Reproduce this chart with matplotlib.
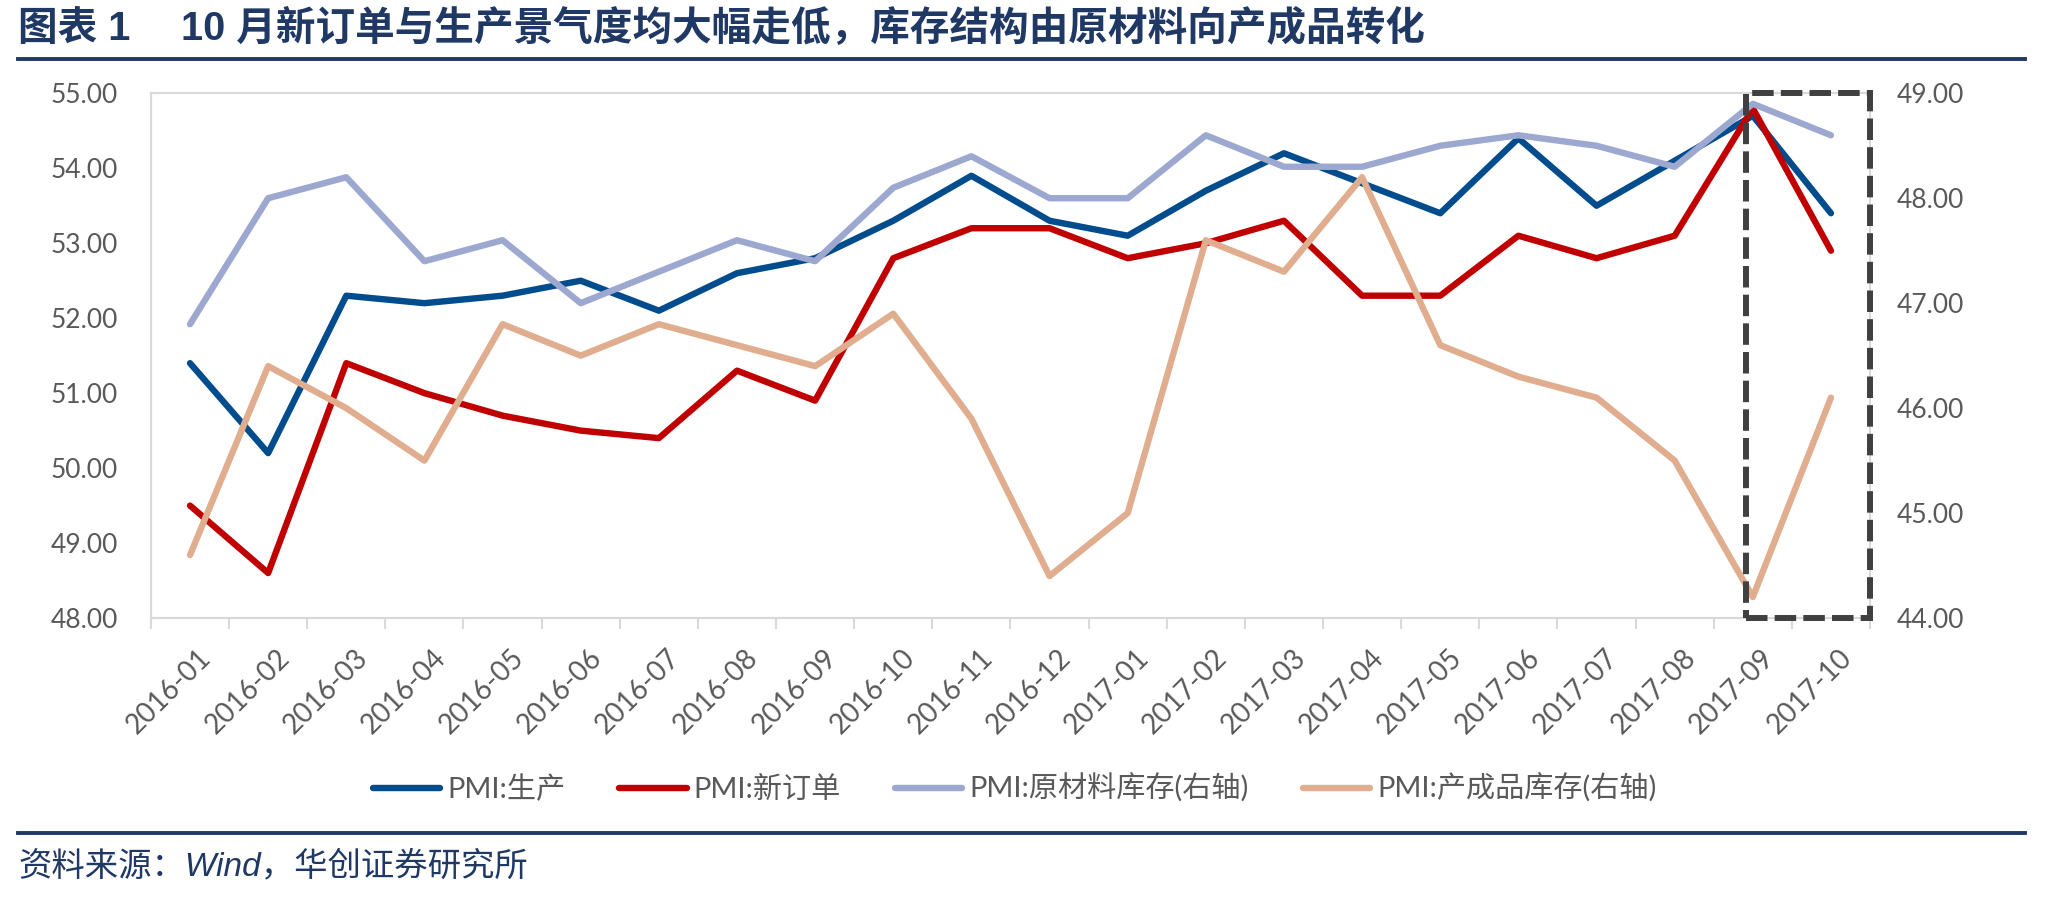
import numpy as np
import matplotlib
matplotlib.use("Agg")
import matplotlib.pyplot as plt
from matplotlib.lines import Line2D
from matplotlib.patches import Rectangle
from matplotlib.transforms import blended_transform_factory, ScaledTranslation

# data
months = ["2016-01", "2016-02", "2016-03", "2016-04", "2016-05", "2016-06",
          "2016-07", "2016-08", "2016-09", "2016-10", "2016-11", "2016-12",
          "2017-01", "2017-02", "2017-03", "2017-04", "2017-05", "2017-06",
          "2017-07", "2017-08", "2017-09", "2017-10"]
production = [51.4, 50.2, 52.3, 52.2, 52.3, 52.5, 52.1, 52.6, 52.8, 53.3, 53.9, 53.3,
              53.1, 53.7, 54.2, 53.8, 53.4, 54.4, 53.5, 54.1, 54.7, 53.4]
new_orders = [49.5, 48.6, 51.4, 51.0, 50.7, 50.5, 50.4, 51.3, 50.9, 52.8, 53.2, 53.2,
              52.8, 53.0, 53.3, 52.3, 52.3, 53.1, 52.8, 53.1, 54.8, 52.9]
raw_stock = [46.8, 48.0, 48.2, 47.4, 47.6, 47.0, 47.3, 47.6, 47.4, 48.1, 48.4, 48.0,
             48.0, 48.6, 48.3, 48.3, 48.5, 48.6, 48.5, 48.3, 48.9, 48.6]
finished_stock = [44.6, 46.4, 46.0, 45.5, 46.8, 46.5, 46.8, 46.6, 46.4, 46.9, 45.9, 44.4,
                  45.0, 47.6, 47.3, 48.2, 46.6, 46.3, 46.1, 45.5, 44.2, 46.1]
series_names = ["PMI:生产", "PMI:新订单", "PMI:原材料库存(右轴)", "PMI:产成品库存(右轴)"]

title = "图表 1　 10 月新订单与生产景气度均大幅走低，库存结构由原材料向产成品转化"
source = "资料来源：Wind，华创证券研究所"

NAVY = "#1F3864"
GRID = "#D9D9D9"
TXT = "#595959"
colors = ["#004C8C", "#C00000", "#9DA8D0", "#E0AD8E"]
num_font = ["Lato", "Noto Sans CJK SC"]

fig = plt.figure(figsize=(20.48, 8.97), dpi=100)
ax = fig.add_axes([0.0737, 0.311, 0.8394, 0.585])
ax2 = ax.twinx()

x = np.arange(len(months))
lw = 4.6
kw = dict(lw=lw, solid_capstyle="round", solid_joinstyle="round")
h1, = ax.plot(x, production, color=colors[0], **kw)
h2, = ax.plot(x, new_orders, color=colors[1], **kw)
h3, = ax2.plot(x, raw_stock, color=colors[2], **kw)
h4, = ax2.plot(x, finished_stock, color=colors[3], **kw)

ax.set_xlim(-0.5, len(months) - 0.5)
ax.set_ylim(48, 55)
ax2.set_ylim(44, 49)
left_ticks = np.arange(48, 55.1, 1)
right_ticks = np.arange(44, 49.1, 1)
ax.set_yticks(left_ticks)
ax2.set_yticks(right_ticks)
ax.set_yticklabels(["%.2f" % v for v in left_ticks], family=num_font, size=19, color=TXT)
ax2.set_yticklabels(["%.2f" % v for v in right_ticks], family=num_font, size=19, color=TXT)
ax.tick_params(axis="y", length=0, pad=24)
ax2.tick_params(axis="y", length=0, pad=19)

ax.set_xticks(x)
ax.set_xticklabels(months, rotation=45, ha="right", va="top", rotation_mode="anchor",
                   family=num_font, size=20, color=TXT)
ax.tick_params(axis="x", which="major", length=0, pad=19)
shift = ScaledTranslation(8 / 100, 0, fig.dpi_scale_trans)
for lab in ax.get_xticklabels():
    lab.set_transform(lab.get_transform() + shift)
ax.set_xticks(np.arange(-0.5, len(months)), minor=True)
ax.tick_params(axis="x", which="minor", length=8, width=1.5, color=GRID)

for a in (ax, ax2):
    for s in a.spines.values():
        s.set_color(GRID)
        s.set_linewidth(1.5)

# dashed box around the last two months
tr = blended_transform_factory(ax2.transData, ax2.transAxes)
box = Rectangle((19.91, 0), 21.5 - 19.91, 1, transform=tr, fill=False, ec="#404040",
                lw=4.3, ls=(0, (3.6, 1.2)), clip_on=False, zorder=10)
ax2.add_patch(box)

fig.legend([h1, h2, h3, h4], series_names, loc="center", bbox_to_anchor=(0.4955, 0.121),
           ncol=4, frameon=False, handlelength=2.3, columnspacing=1.85, handletextpad=0.25,
           prop={"family": num_font, "size": 21}, labelcolor=TXT)

# header and footer
fig.text(0.009, 0.968, title, family=["Liberation Sans", "Noto Sans CJK SC"],
         weight="bold", size=28.5, color=NAVY, va="center", ha="left")
fig.add_artist(Line2D([0.009, 0.989], [0.9345, 0.9345], transform=fig.transFigure, color=NAVY, lw=2.8))
fig.add_artist(Line2D([0.009, 0.989], [0.0713, 0.0713], transform=fig.transFigure, color=NAVY, lw=2.8))
fig.text(0.009, 0.0337, source, family=["Liberation Sans", "Noto Sans CJK SC"],
         style="italic", size=24, color=NAVY, va="center", ha="left")

fig.savefig("out.png", dpi=100)
